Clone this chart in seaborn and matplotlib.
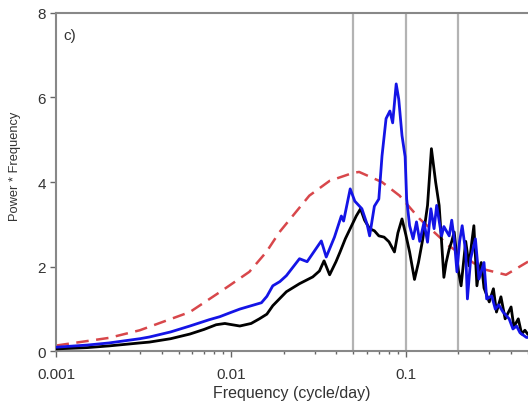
import matplotlib
matplotlib.use("Agg")
import matplotlib.pyplot as plt
import seaborn as sns
import pandas as pd
import numpy as np
from matplotlib.ticker import LogLocator, FixedLocator, FixedFormatter, NullFormatter

# ---- data ----
black_freq = [0.001, 0.0015, 0.002, 0.003, 0.0034, 0.0045, 0.0058, 0.007, 0.0082, 0.0092,
              0.0098, 0.0112, 0.013, 0.0145, 0.016, 0.0173, 0.0207, 0.0246, 0.0293, 0.032,
              0.034, 0.0366, 0.0398, 0.042, 0.045, 0.052, 0.055, 0.058, 0.062, 0.066,
              0.07, 0.075, 0.08, 0.086, 0.09, 0.095, 0.1, 0.105, 0.112, 0.118,
              0.125, 0.133, 0.14, 0.148, 0.155, 0.16, 0.165, 0.17, 0.177, 0.183,
              0.189, 0.195, 0.2, 0.207, 0.215, 0.22, 0.23, 0.237, 0.245, 0.255,
              0.262, 0.27, 0.28, 0.3, 0.317, 0.33, 0.35, 0.37, 0.4, 0.415,
              0.44, 0.46, 0.48, 0.5]
black_vals = [0.06, 0.09, 0.13, 0.2, 0.22, 0.3, 0.41, 0.52, 0.63, 0.66,
              0.64, 0.6, 0.66, 0.77, 0.88, 1.08, 1.41, 1.6, 1.76, 1.9,
              2.14, 1.81, 2.12, 2.35, 2.66, 3.2, 3.37, 3.1, 2.9, 2.85,
              2.73, 2.7, 2.59, 2.35, 2.8, 3.13, 2.75, 2.35, 1.7, 2.1,
              2.66, 3.45, 4.79, 4.0, 3.45, 2.6, 1.75, 2.1, 2.42, 2.6,
              2.82, 2.3, 1.9, 1.55, 2.2, 2.6, 2.02, 2.5, 2.97, 1.55,
              1.9, 2.1, 1.5, 1.17, 1.48, 0.93, 1.29, 0.77, 1.05, 0.58,
              0.77, 0.41, 0.5, 0.4]

blue_freq = [0.001, 0.0015, 0.002, 0.003, 0.0034, 0.0045, 0.0058, 0.0075, 0.0086, 0.0098,
             0.0112, 0.0149, 0.016, 0.0173, 0.019, 0.0207, 0.0246, 0.0272, 0.0328, 0.035,
             0.039, 0.0427, 0.044, 0.048, 0.051, 0.056, 0.06, 0.062, 0.066, 0.07,
             0.073, 0.077, 0.081, 0.084, 0.088, 0.091, 0.095, 0.099, 0.101, 0.105,
             0.11, 0.115, 0.12, 0.127, 0.133, 0.139, 0.145, 0.15, 0.16, 0.165,
             0.177, 0.183, 0.189, 0.196, 0.203, 0.21, 0.22, 0.225, 0.235, 0.25,
             0.262, 0.28, 0.29, 0.31, 0.325, 0.34, 0.36, 0.39, 0.41, 0.43,
             0.45, 0.49, 0.5]
blue_vals = [0.1, 0.15, 0.2, 0.3, 0.34, 0.46, 0.6, 0.75, 0.82, 0.91,
             1.0, 1.15, 1.3, 1.55, 1.65, 1.79, 2.19, 2.12, 2.61, 2.23,
             2.7, 3.2, 3.08, 3.84, 3.55, 3.37, 3.0, 2.73, 3.43, 3.6,
             4.62, 5.5, 5.68, 5.4, 6.32, 5.96, 5.1, 4.6, 3.6, 2.97,
             2.66, 3.06, 2.6, 3.05, 2.58, 3.37, 2.9, 3.45, 2.73, 2.95,
             2.73, 3.1, 2.66, 1.88, 2.6, 2.97, 2.35, 1.24, 2.2, 2.66,
             1.71, 2.1, 1.24, 1.31, 1.0, 1.1, 0.93, 0.77, 0.53, 0.6,
             0.44, 0.33, 0.33]

red_freq = [0.001, 0.002, 0.003, 0.0058, 0.0086, 0.0098, 0.0127, 0.0159, 0.0189, 0.028,
            0.0366, 0.05, 0.054, 0.073, 0.092, 0.12, 0.177, 0.273, 0.374, 0.5]
red_vals = [0.14, 0.32, 0.5, 0.93, 1.40, 1.56, 1.88, 2.35, 2.82, 3.68,
            4.03, 4.22, 4.24, 4.0, 3.68, 3.13, 2.49, 1.95, 1.81, 2.12]

band_lines = [0.05, 0.1, 0.2]
x_ticks = [0.001, 0.01, 0.1]
x_ticklabels = ["0.001", "0.01", "0.1"]
y_ticks = [0, 2, 4, 6, 8]

# ---- plot ----
sns.set_style("white")
plt.rcParams['font.family'] = ['Liberation Sans', 'DejaVu Sans']

fig = plt.figure(figsize=(5.28, 4.06), dpi=100)
ax = fig.add_axes([0.107, 0.132, 0.893, 0.834])

for f in band_lines:
    ax.axvline(f, color='#b3b3b3', lw=1.6, zorder=1)

red_df = pd.DataFrame({"f": red_freq, "v": red_vals})
black_df = pd.DataFrame({"f": black_freq, "v": black_vals})
blue_df = pd.DataFrame({"f": blue_freq, "v": blue_vals})

sns.lineplot(data=red_df, x="f", y="v", ax=ax, color='#d8474b', lw=1.8,
             sort=False, estimator=None, zorder=2)
ax.lines[-1].set_dashes((5, 3))
sns.lineplot(data=black_df, x="f", y="v", ax=ax, color='black', lw=2.0,
             sort=False, estimator=None, zorder=3)
sns.lineplot(data=blue_df, x="f", y="v", ax=ax, color='#1414e6', lw=2.0,
             sort=False, estimator=None, zorder=4)

ax.set_xscale('log')
ax.set_xlim(0.001, 0.5)
ax.set_ylim(0, 8)

ax.xaxis.set_major_locator(FixedLocator(x_ticks))
ax.xaxis.set_major_formatter(FixedFormatter(x_ticklabels))
ax.xaxis.set_minor_locator(LogLocator(base=10, subs=np.arange(2, 10)))
ax.xaxis.set_minor_formatter(NullFormatter())
ax.set_yticks(y_ticks)
ax.set_yticklabels([str(t) for t in y_ticks])

ax.tick_params(axis='both', which='major', direction='out', length=4, width=1,
               color='#666666', labelsize=11, labelcolor='#333333', bottom=True, left=True)
ax.tick_params(axis='x', which='minor', direction='out', length=2.5, width=1,
               color='#666666', bottom=True)
ax.tick_params(axis='x', which='major', pad=7)

for s in ['left', 'bottom', 'top']:
    ax.spines[s].set_color('#888888')
    ax.spines[s].set_linewidth(1.5)
ax.spines['right'].set_visible(False)

ax.set_xlabel("Frequency (cycle/day)", fontsize=11.5, color='#333333', labelpad=3)
ax.set_ylabel("Power * Frequency", fontsize=9.3, color='#333333')
ax.yaxis.set_label_coords(-0.075, 0.55)

ax.text(0.015, 0.955, "c)", transform=ax.transAxes, fontsize=11, color='#333333',
        va='top', ha='left')

fig.savefig("out.png", dpi=100)
